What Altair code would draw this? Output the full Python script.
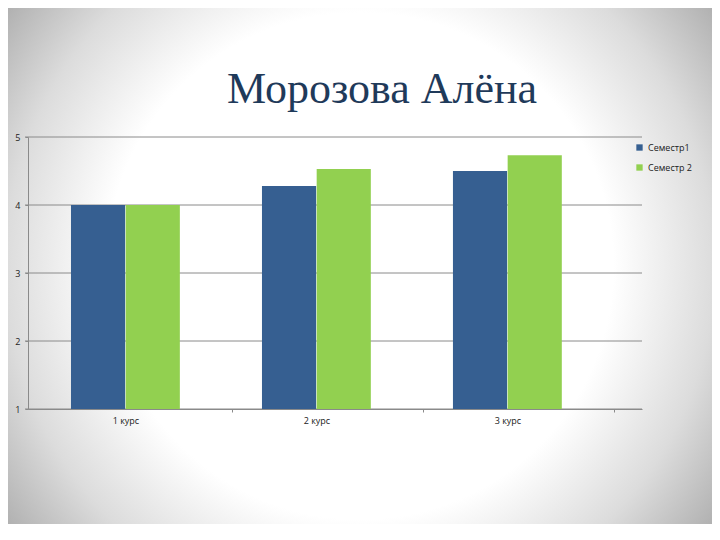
import altair as alt
import pandas as pd

courses = ["1 курс", "2 курс", "3 курс"]
series = ["Семестр1", "Семестр 2"]
sem1 = [4.0, 4.28, 4.5]
sem2 = [4.0, 4.53, 4.73]
title_text = "Морозова Алёна"
y_ticks = [1, 2, 3, 4, 5]

rows = []
for c, a, b in zip(courses, sem1, sem2):
    rows.append({"course": c, "series": series[0], "value": a})
    rows.append({"course": c, "series": series[1], "value": b})
df = pd.DataFrame(rows)

W, H = 614, 272
PL, PT, PR, PB = 20, 129, 70, 115

yscale = alt.Scale(domain=[1, 5], zero=False, nice=False)

bg = alt.Chart(pd.DataFrame({"a": [0]})).mark_rect(
    fill={
        "gradient": "radial",
        "x1": 0.5, "y1": 0.5, "r1": 0,
        "x2": 0.5, "y2": 0.5, "r2": 0.72,
        "stops": [
            {"offset": 0, "color": "#ffffff"},
            {"offset": 0.5, "color": "#ffffff"},
            {"offset": 0.7, "color": "#dcdcdc"},
            {"offset": 1, "color": "#8c8c8c"},
        ],
    }
).encode(
    x=alt.value(-PL), x2=alt.value(W + PR),
    y=alt.value(-PT), y2=alt.value(H + PB),
)

grid = alt.Chart(pd.DataFrame({"v": y_ticks})).mark_rule(
    color="#8a8a8a", strokeWidth=1
).encode(
    y=alt.Y("v:Q", scale=yscale, title=None,
            axis=alt.Axis(values=y_ticks, format="d", labelFont="Open Sans",
                          labelFontSize=9, labelColor="#222222", labelPadding=5,
                          domainColor="#8a8a8a", tickColor="#8a8a8a", tickSize=3,
                          grid=False, zindex=1)),
    x=alt.value(-3), x2=alt.value(W),
)

bars = alt.Chart(df).mark_bar().encode(
    x=alt.X("course:N", sort=courses, title=None,
            scale=alt.Scale(paddingInner=0.43, paddingOuter=0.3225, align=0.349),
            axis=alt.Axis(labelAngle=0, labelFont="Open Sans", labelFontSize=9,
                          labelColor="#222222", labelPadding=4,
                          domainColor="#8a8a8a", tickColor="#8a8a8a",
                          tickSize=3, grid=False, zindex=1,
                          tickOffset=107, labelOffset=-107)),
    xOffset=alt.XOffset("series:N", sort=series, scale=alt.Scale(paddingInner=0.01)),
    y=alt.Y("value:Q", title=None, scale=yscale),
    y2=alt.datum(1),
    color=alt.Color("series:N", sort=series,
                    scale=alt.Scale(domain=series, range=["#365f91", "#92d050"]),
                    legend=alt.Legend(title=None, orient="none", legendX=607, legendY=6,
                                      symbolType="square", symbolSize=40,
                                      labelFont="Open Sans", labelFontSize=9,
                                      labelColor="#222222", rowPadding=10,
                                      symbolStrokeWidth=0)),
)

title = alt.Chart(pd.DataFrame({"t": [title_text]})).mark_text(
    font="Liberation Serif", fontSize=44, color="#1f3a5a",
    align="center", baseline="alphabetic",
).encode(text="t:N", x=alt.value(354), y=alt.value(-34))

chart = alt.layer(bg, grid, bars, title).properties(
    width=W, height=H,
    autosize=alt.AutoSizeParams(type="none"),
    padding={"left": PL, "top": PT, "right": PR, "bottom": PB},
).configure_view(stroke=None, fill=None)

chart.save("out.html", embed_options={"renderer": "svg", "actions": False})
